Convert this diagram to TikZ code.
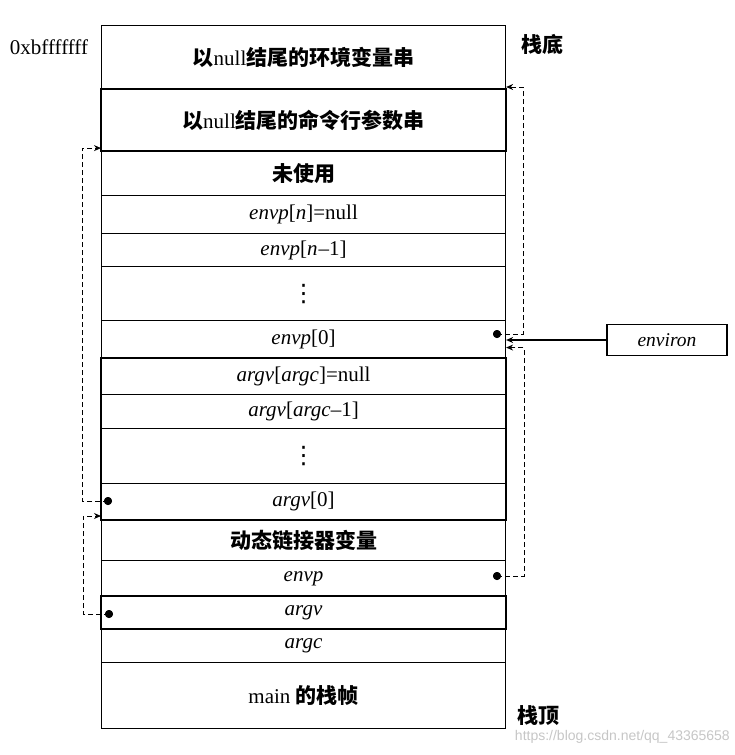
\documentclass[tikz,border=0pt]{standalone}
\usepackage{fontspec}
\setmainfont{Liberation Serif}
\setsansfont{Liberation Sans}
\newfontfamily\cjk{Noto Sans CJK SC}
\newfontfamily\symfont{DejaVu Sans}
\usetikzlibrary{arrows.meta}
\newcommand\zh[1]{{\cjk\bfseries #1}}
\newcommand\vdotsbig{{\symfont\fontsize{24}{26}\selectfont ⋮}}
\begin{document}
\begin{tikzpicture}[x=1pt,y=1pt,
  row/.style={draw, line width=1.1pt, minimum width=404pt, inner sep=0pt, anchor=north west,
    font=\fontsize{21}{23}\selectfont},
  thickbox/.style={draw, line width=2.6pt},
  dotnode/.style={circle, fill, inner sep=0pt, minimum size=8pt},
  ptrline/.style={line width=0.9pt, dash pattern=on 5pt off 3pt, -{Stealth[length=7pt,width=6pt]}},
  solidptr/.style={line width=1.1pt, -{Stealth[length=7pt,width=6pt]}},
  lbl/.style={font=\fontsize{21}{23}\selectfont, inner sep=0pt}
]
\useasboundingbox (0,0) rectangle (735,-755);

\node[row, minimum height=64pt] (r1) at (101,-25) {\zh{以}null\zh{结尾的环境变量串}};
\node[row, minimum height=61pt] (r2) at (101,-89) {\raisebox{-2pt}{\zh{以}null\zh{结尾的命令行参数串}}};
\node[row, minimum height=45pt] (r3) at (101,-150) {\raisebox{-3pt}{\zh{未使用}}};
\node[row, minimum height=38pt] (r4) at (101,-195) {\textit{envp}[\textit{n}]=null};
\node[row, minimum height=33pt] (r5) at (101,-233) {\textit{envp}[\textit{n}\kern1pt--1]};
\node[row, minimum height=54pt] (r6) at (101,-266) {\vdotsbig};
\node[row, minimum height=38pt] (r7) at (101,-320) {\textit{envp}[0]};
\node[row, minimum height=36pt] (r8) at (101,-358) {\raisebox{-3pt}{\textit{argv}[\textit{argc}]=null}};
\node[row, minimum height=34pt] (r9) at (101,-394) {\raisebox{-3pt}{\textit{argv}[\textit{argc}--1]}};
\node[row, minimum height=55pt] (r10) at (101,-428) {\vdotsbig};
\node[row, minimum height=36pt] (r11) at (101,-483) {\textit{argv}[0]};
\node[row, minimum height=41pt] (r12) at (101,-519) {\zh{动态链接器变量}};
\node[row, minimum height=36pt] (r13) at (101,-560) {\textit{envp}};
\node[row, minimum height=32pt] (r14) at (101,-596) {\textit{argv}};
\node[row, minimum height=34pt] (r15) at (101,-628) {\textit{argc}};
\node[row, minimum height=66pt] (r16) at (101,-662) {main \zh{的栈帧}};

% thick outlines
\draw[thickbox] (r2.north west) rectangle (r2.south east);
\draw[thickbox] (r8.north west) rectangle (r11.south east);
\draw[thickbox] (r14.north west) rectangle (r14.south east);

% side labels
\node[lbl] (addr) at (49,-47) {0xbfffffff};
\node[lbl] (bottom) at (542,-44) {\zh{栈底}};
\node[lbl] (top) at (538,-716) {\zh{栈顶}};

% environ box
\node[draw, line width=1.1pt, minimum width=120pt, minimum height=31pt, inner sep=0pt,
  font=\fontsize{19.5}{21}\selectfont] (environ) at (667,-340) {\textit{environ}};

% dots
\node[dotnode] (denvp0) at (497,-334) {};
\node[dotnode] (dargv0) at (108,-501) {};
\node[dotnode] (denvp) at (497,-576) {};
\node[dotnode] (dargv) at (109,-614) {};

% pointers
\draw[ptrline] (denvp0.center) -- ++(26,0) |- ([yshift=2pt]r2.north east);
\draw[ptrline] (denvp.center) -- ++(27,0) |- ([yshift=-8pt]r7.east);
\draw[solidptr] (environ.west) -- (environ.west -| r7.east);
\draw[ptrline] (dargv0.center) -- ++(-26,0) |- ([yshift=3pt]r2.south west);
\draw[ptrline] (dargv.center) -- ++(-26,0) |- ([yshift=3pt]r12.north west);

% redraw dots on top
\fill (denvp0) circle (4pt);
\fill (dargv0) circle (4pt);
\fill (denvp) circle (4pt);
\fill (dargv) circle (4pt);

% watermark
\node[font=\sffamily\fontsize{14}{16}\selectfont, text=gray!45, inner sep=0pt, anchor=east] (wm) at (730,-737) {https://blog.csdn.net/qq\_43365658};
\end{tikzpicture}
\end{document}
